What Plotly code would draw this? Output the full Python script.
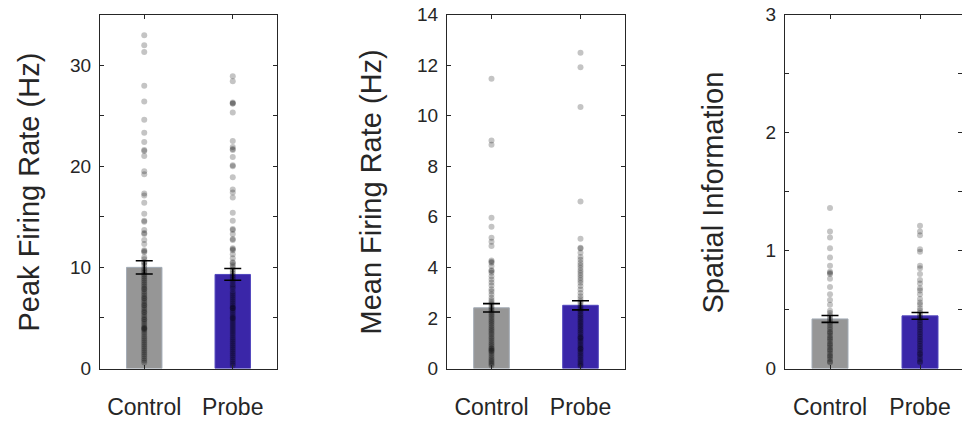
import plotly.graph_objects as go

categories = ["Control", "Probe"]

# Panel 1: Peak firing rate (Hz)
peak_mean = [10.0, 9.3]
peak_sem = [0.65, 0.58]
peak_control = [32.96, 31.97, 31.3, 27.96, 26.4, 24.6, 23.3, 22.4, 21.6, 21.5, 21.0, 19.5, 19.2,
                17.3, 17.1, 16.4, 15.3, 14.6, 14.5, 13.7, 13.4, 13.3, 12.7, 12.3, 11.7, 11.6, 11.5,
                11.0, 10.8, 10.5, 10.4, 10.2,
                9.9, 9.7, 9.5, 9.3, 9.1, 8.9, 8.7, 8.5, 8.3, 8.1, 7.9, 7.8, 7.6, 7.4, 7.2, 7.0, 6.9,
                6.7, 6.5, 6.3, 6.2, 6.0, 5.8, 5.6, 5.5, 5.3, 5.1, 4.9, 4.8, 4.6, 4.4, 4.2, 4.0, 4.0,
                3.9, 3.8, 3.6, 3.4, 3.2, 3.0, 2.8, 2.6, 2.4, 2.2, 2.0, 1.8, 1.6, 1.4, 1.2, 1.0, 0.8, 0.6]
peak_probe = [28.9, 28.4, 26.3, 26.2, 26.2, 25.3, 22.5, 21.9, 21.7, 21.6, 20.9, 20.1, 20.0, 18.9,
              17.7, 17.4, 16.9, 15.4, 14.6, 13.8, 13.7, 13.3, 12.8, 12.7, 11.9, 11.8, 11.7, 11.3,
              10.9, 10.5, 10.4, 10.2, 10.0,
              9.8, 9.6, 9.4, 9.2, 9.0, 8.8, 8.6, 8.3, 8.1, 7.9, 7.6, 7.4, 7.2, 7.0, 6.8, 6.6, 6.4,
              6.2, 6.0, 6.0, 5.9, 5.7, 5.5, 5.3, 5.1, 5.0, 4.9, 4.7, 4.5, 4.3, 4.1, 3.9, 3.7, 3.5,
              3.3, 3.1, 2.9, 2.7, 2.5, 2.3, 2.1, 1.9, 1.7, 1.5, 1.3, 1.1, 0.9, 0.7, 0.5, 0.3]

# Panel 2: Mean firing rate (Hz)
mean_mean = [2.40, 2.50]
mean_sem = [0.165, 0.18]
mean_control = [11.46, 9.02, 8.85, 5.96, 5.61, 5.17, 5.01, 4.84, 4.27, 4.22, 4.18, 4.05, 3.89, 3.86,
                3.79, 3.65, 3.52, 3.40, 3.28, 3.13, 3.05, 2.93, 2.80, 2.70, 2.62, 2.55,
                2.45, 2.38, 2.30, 2.22, 2.15, 2.08, 2.0, 1.92, 1.85, 1.78, 1.70, 1.62, 1.55, 1.48,
                1.40, 1.33, 1.25, 1.18, 1.10, 1.02, 0.95, 0.88, 0.80, 0.78, 0.72, 0.70, 0.65, 0.58,
                0.50, 0.43, 0.36, 0.30, 0.24, 0.18, 0.12]
mean_probe = [12.49, 11.91, 10.34, 6.60, 5.13, 4.78, 4.75, 4.58, 4.41, 4.30, 4.18, 4.08, 3.98, 3.88,
              3.79, 3.69, 3.59, 3.49, 3.39, 3.26, 3.12, 2.99, 2.86, 2.75, 2.65, 2.58,
              2.47, 2.40, 2.32, 2.25, 2.17, 2.10, 2.02, 1.95, 1.87, 1.80, 1.72, 1.65, 1.57, 1.50,
              1.42, 1.35, 1.27, 1.22, 1.20, 1.12, 1.05, 0.97, 0.90, 0.82, 0.78, 0.75, 0.67, 0.60,
              0.52, 0.45, 0.37, 0.30, 0.22, 0.15, 0.10]

# Panel 3: Spatial information
si_mean = [0.42, 0.446]
si_sem = [0.029, 0.029]
si_control = [1.36, 1.16, 1.11, 1.02, 0.94, 0.87, 0.82, 0.81, 0.80, 0.76, 0.69, 0.63, 0.58, 0.54,
              0.49, 0.47, 0.45, 0.43, 0.41, 0.39, 0.37, 0.35, 0.33, 0.31, 0.30, 0.28, 0.26, 0.25,
              0.23, 0.21, 0.20, 0.18, 0.16, 0.15, 0.13, 0.11, 0.10, 0.08, 0.06, 0.05]
si_probe = [1.21, 1.16, 1.13, 1.01, 0.99, 0.87, 0.85, 0.80, 0.75, 0.72, 0.68, 0.66, 0.63, 0.59,
            0.56, 0.54, 0.51, 0.49, 0.47, 0.45, 0.43, 0.41, 0.39, 0.37, 0.35, 0.33, 0.31, 0.29,
            0.27, 0.25, 0.23, 0.21, 0.19, 0.17, 0.15, 0.13, 0.12, 0.10, 0.08, 0.06, 0.05]

titles = ["Peak Firing Rate (Hz)", "Mean Firing Rate (Hz)", "Spatial Information"]
y_ranges = [[0, 35], [0, 14], [0, 3]]
y_dticks = [10, 2, 1]
y_minor = [5, None, 0.5]

bar_colors = ["#969696", "#3a26a8"]
bar_edges = ["#a3acb6", "#5046bd"]
text_color = "#262626"
font_family = "Liberation Sans, Arial, sans-serif"

W, H = 962, 423
x_px = [(100, 277), (447, 625), (785, 965)]
y_top, y_bot = 14.5, 368.5
title_x_px = [28, 370, 712]

panels = [
    (peak_mean, peak_sem, peak_control, peak_probe),
    (mean_mean, mean_sem, mean_control, mean_probe),
    (si_mean, si_sem, si_control, si_probe),
]

fig = go.Figure()
xpos = [1, 2]
for i, (means, sems, ctrl, prb) in enumerate(panels):
    xa = "x" if i == 0 else f"x{i+1}"
    ya = "y" if i == 0 else f"y{i+1}"
    fig.add_trace(go.Bar(x=xpos, y=means, width=0.4, xaxis=xa, yaxis=ya,
                         marker=dict(color=bar_colors, line=dict(color=bar_edges, width=1)),
                         showlegend=False, hoverinfo="skip"))
    fig.add_trace(go.Scatter(x=[1] * len(ctrl) + [2] * len(prb), y=ctrl + prb, mode="markers",
                             xaxis=xa, yaxis=ya,
                             marker=dict(size=6, color="rgba(0,0,0,0.23)", line=dict(width=0)),
                             showlegend=False))
    fig.add_trace(go.Scatter(x=xpos, y=means, mode="markers", xaxis=xa, yaxis=ya,
                             marker=dict(size=1, color="rgba(0,0,0,0)"),
                             error_y=dict(type="data", array=sems, color="#000000",
                                          thickness=1.6, width=8.5),
                             showlegend=False))

layout = dict(template="none", width=W, height=H,
              margin=dict(l=0, r=0, t=0, b=0, autoexpand=False),
              paper_bgcolor="white", plot_bgcolor="white",
              font=dict(family=font_family, color=text_color), barmode="overlay",
              annotations=[])
for i in range(3):
    xk = "xaxis" if i == 0 else f"xaxis{i+1}"
    yk = "yaxis" if i == 0 else f"yaxis{i+1}"
    ya_ref = "y" if i == 0 else f"y{i+1}"
    xa_ref = "x" if i == 0 else f"x{i+1}"
    x0, x1 = x_px[i]
    layout[xk] = dict(domain=[x0 / W, min(x1 / W, 1.0)],
                      range=[0.5, 0.5 + 2.0 * (min(x1, W) - x0) / (x1 - x0)], anchor=ya_ref,
                      automargin=False, ticklabeloverflow="allow",
                      tickvals=xpos, ticktext=categories, ticks="inside", ticklen=4,
                      tickcolor=text_color, showline=True, linecolor=text_color, linewidth=1,
                      mirror="ticks", showgrid=False, zeroline=False,
                      tickfont=dict(size=23, color=text_color, family=font_family),
                      ticklabelstandoff=18)
    ydict = dict(domain=[1 - y_bot / H, 1 - y_top / H], range=y_ranges[i],
                 anchor=xa_ref, automargin=False, ticklabeloverflow="allow",
                 dtick=y_dticks[i], tick0=0, ticks="inside", ticklen=4, tickcolor=text_color,
                 showline=True, linecolor=text_color, linewidth=1, mirror="ticks",
                 showgrid=False, zeroline=False,
                 tickfont=dict(size=19, color=text_color, family=font_family),
                 ticklabelstandoff=4)
    if y_minor[i] is not None:
        ydict["minor"] = dict(dtick=y_minor[i], tick0=0, ticks="inside", ticklen=4,
                              tickcolor=text_color, showgrid=False)
    layout[yk] = ydict
    layout["annotations"].append(dict(text=titles[i], textangle=-90, xref="paper", yref="paper",
                                      x=title_x_px[i] / W,
                                      y=1 - ((y_top + y_bot) / 2 + 1) / H,
                                      xanchor="center", yanchor="middle", showarrow=False,
                                      font=dict(size=29, color=text_color, family=font_family)))

fig.update_layout(**layout)
fig.write_html("out.html", config={"displayModeBar": False},
               post_script="document.body.style.margin='0px';")
